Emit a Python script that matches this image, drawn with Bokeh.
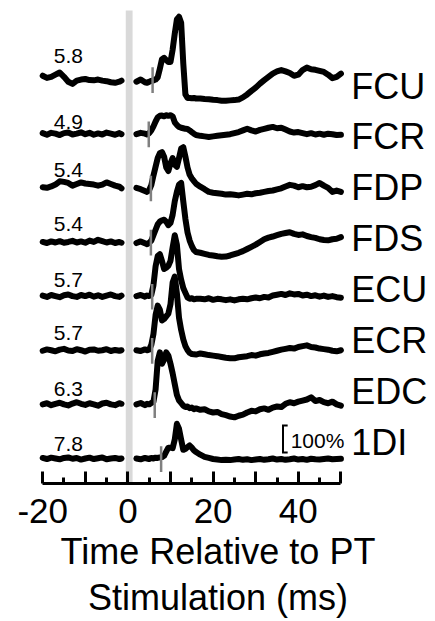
from bokeh.plotting import figure
from bokeh.models import FixedTicker, Title
from bokeh.core.properties import value
from bokeh.embed import file_html
from bokeh.resources import INLINE

# ---------------- data ----------------
MUSCLES = ["FCU", "FCR", "FDP", "FDS", "ECU", "ECR", "EDC", "1DI"]
LATENCY = [5.8, 4.9, 5.4, 5.4, 5.7, 5.7, 6.3, 7.8]   # ms, onset marker + label

PRE_T = [-20, -19, -18, -17, -16, -15, -14, -13, -12, -11,
         -10, -9, -8, -7, -6, -5, -4, -3, -2, -1.5]
POST_T = [2, 3, 4, 4.5, 5, 5.5,
          6, 6.5, 7, 7.5, 8, 8.5, 9, 9.5,
          10, 10.5, 11, 11.5, 12, 12.5, 13, 13.5,
          14, 14.5, 15, 15.5, 16,
          17, 18, 19, 20, 21, 22, 23, 24, 25, 26,
          27, 28, 29, 30, 31, 32, 33, 34, 35, 36,
          37, 38, 39, 40, 41, 42, 43, 44, 45, 46,
          47, 48, 49, 50]

# amplitude in % of baseline
FCU_PRE = [14, 6, 10, 18, 26, 10, -8, -16, -4, 0, 2, -2, -3, 0, -4, -6, -10, -12, -8, -4]
FCU_POST = [-8, 0, -10, -12, -8, -5,
            -3, 0, 8, 40, 75, 80, 72, 65,
            65, 110, 170, 222, 232, 210, 60, -55,
            -68, -68, -69, -68, -70,
            -70, -72, -73, -75, -76, -78, -78, -77, -76, -74,
            -66, -55, -42, -30, -15, -2, 10, 22, 30, 35,
            30, 24, 14, 18, 35, 44, 38, 36, 32, 28,
            18, 5, 10, 22]

FCR_PRE = [2, -4, 3, 0, -5, 2, 4, -3, 0, 5, -2, 3, -4, 1, -3, 4, 0, -4, 2, -2]
FCR_POST = [-2, 3, 0, -3, 2, 12,
            27, 45, 60, 66, 67, 64, 68, 66,
            68, 64, 42, 32, 25, 22, 20, 18,
            17, 12, 6, 0, -5,
            -8, -10, -12, -10, -8, -6, -4, -2, 2, 6,
            12, 18, 12, 8, 14, 18, 22, 25, 20, 22,
            15, 8, 4, 6, 2, -2, 2, -3, 0, -4,
            0, -2, -5, -4]

FDP_PRE = [2, 0, 5, 12, 24, 22, 18, 8, 14, 20, 16, 14, 12, 8, 12, 20, 14, 8, 4, -2]
FDP_POST = [0, -5, -12, -15, -8, 10,
            45, 78, 110, 128, 132, 115, 75, 62,
            90, 110, 85, 78, 110, 145, 150, 115,
            75, 48, 35, 25, 15,
            4, -5, -15, -18, -20, -22, -25, -24, -26, -28,
            -25, -22, -24, -20, -18, -15, -12, -10, -6, -2,
            5, 11, 8, 2, 6, 2, 4, 10, 18, 8,
            0, -15, -10, -15]

FDS_PRE = [0, -4, 2, -2, 3, -3, 0, 4, -2, 2, -3, 5, 0, 8, 3, -2, 2, -4, 0, -3]
FDS_POST = [-4, 2, -5, -8, -3, 5,
            25, 45, 65, 75, 80, 82, 75, 62,
            70, 100, 150, 185, 212, 218, 150, 85,
            35, 5, -15, -30, -37,
            -40, -44, -48, -50, -53, -55, -54, -50, -45, -40,
            -34, -26, -18, -10, 0, 10, 16, 20, 25, 30,
            33, 36, 30, 26, 28, 22, 18, 15, 10, 7,
            6, 10, 12, 18]

ECU_PRE = [2, -3, 4, 0, -4, 3, 6, 0, -3, 4, 0, 5, -2, 3, -3, 2, 6, 0, -3, 2]
ECU_POST = [0, 4, -2, 2, 0, 5,
            40, 110, 148, 155, 130, 100, 105, 112,
            130, 180, 225, 190, 100, 60, 30, 12,
            -5, -10, -8, -12, -10,
            -10, -12, -8, -14, -10, -12, -15, -12, -16, -12,
            -10, -12, -8, -5, -8, -3, -5, 2, 5, 8,
            4, 10, 6, 8, 2, 5, 0, 3, -2, 2,
            -3, 0, -4, -6]

ECR_PRE = [-2, 3, 0, -4, 2, 5, -1, -3, 4, 0, -5, 2, 3, -2, 0, 4, -3, 1, -2, 0]
ECR_POST = [0, -3, 3, 0, 2, 20,
            60, 130, 165, 150, 110, 115, 125, 135,
            170, 250, 272, 210, 120, 75, 40, 15,
            0, -10, -14, -15, -16,
            -12, -15, -18, -20, -22, -25, -28, -30, -30, -26,
            -24, -22, -18, -20, -15, -12, -10, -6, -2, 2,
            5, 8, 6, 12, 15, 18, 12, 10, 6, 4,
            2, -2, -4, 0]

EDC_PRE = [0, 4, -3, 2, 6, 0, -4, 3, 8, 2, -2, 4, 0, -5, 3, 6, 0, -3, 4, 2]
EDC_POST = [0, 5, -3, 2, 0, 5,
            10, 55, 160, 192, 150, 165, 192, 180,
            150, 115, 75, 35, 15, 5, -5, -10,
            -8, -14, -12, -18, -15,
            -20, -18, -26, -30, -28, -36, -40, -45, -48, -42,
            -38, -30, -24, -26, -18, -15, -20, -12, -8, -10,
            2, 8, 4, 10, 14, 18, 26, 12, 16, 8,
            4, 10, 0, -5]

DI1_PRE = [2, -2, 3, 0, -3, 2, 4, -1, 2, -4, 0, 3, -2, 1, 4, -3, 0, 2, -2, 0]
DI1_POST = [0, -3, 2, 0, -2, 2,
            0, 3, 2, 4, 5, 10, 25, 40,
            40, 38, 70, 128, 110, 70, 32, 35,
            42, 48, 40, 30, 24,
            14, 6, 2, -2, -4, -6, -5, -6, -4, -2,
            -5, -3, -6, -4, -2, -5, -3, 0, -4, -2,
            -5, -3, 0, -4, -2, -5, -1, -3, -4, -2,
            0, -3, -2, -1]

PRE = [FCU_PRE, FCR_PRE, FDP_PRE, FDS_PRE, ECU_PRE, ECR_PRE, EDC_PRE, DI1_PRE]
POST = [FCU_POST, FCR_POST, FDP_POST, FDS_POST, ECU_POST, ECR_POST, EDC_POST, DI1_POST]

SCALE_PCT = 100
X_TICKS = [-20, -10, 0, 10, 20, 30, 40, 50]
X_MINOR = [-15, -5, 5, 15, 25, 35, 45]
X_LABELED = [-20, 0, 20, 40]
X_TITLE = ["Time Relative to PT", "Stimulation (ms)"]

# ---------------- layout ----------------
STEP = 200                                   # % between stacked traces
NUM_DY = [87, 44, 65, 65, 61, 65, 55, 52]    # latency-number centre above trace
FONT = "Liberation Sans"

p = figure(width=435, height=621, x_range=(-29.9, 72.2), y_range=(-92.4, 1692),
           output_backend="svg", toolbar_location=None, y_axis_location=None,
           min_border_left=0, min_border_right=0, min_border_top=0,
           min_border_bottom=138)
p.outline_line_color = None
p.grid.visible = False
p.background_fill_color = "white"
p.border_fill_color = "white"

# stimulus bar
p.quad(left=-0.5, right=1.1, bottom=-100, top=1655, color="#d9d9d9", line_color=None)

n = len(MUSCLES)
offsets = [(n - 1 - i) * STEP for i in range(n)]

for i in range(n):
    xs = PRE_T + [float("nan")] + POST_T
    ys = [offsets[i] + v for v in PRE[i]] + [float("nan")] + [offsets[i] + v for v in POST[i]]
    p.line(xs, ys, line_color="black", line_width=6, line_join="round", line_cap="round")

# onset markers
p.segment(x0=LATENCY, y0=[o - 50 for o in offsets], x1=LATENCY, y1=[o + 45 for o in offsets],
          line_color="#808080", line_width=2.5)

# latency numbers
p.text(x=[-17.4] * n, y=[offsets[i] + NUM_DY[i] for i in range(n)],
       text=[f"{v:.1f}" for v in LATENCY], text_font=value(FONT), text_font_size="21px",
       text_baseline="middle", text_align="left", text_color="black")

# muscle labels
p.text(x=[52.4] * n, y=[1376 - 188 * i for i in range(n)], text=MUSCLES,
       text_font=value(FONT), text_font_size="36px", text_baseline="middle",
       text_align="left", text_color="black")

# scale bar
bx = 36.4
p.line([bx + 1.1, bx, bx, bx + 1.1], [22 + SCALE_PCT, 22 + SCALE_PCT, 22, 22],
       line_color="black", line_width=2, line_join="miter")
p.text(x=[38.2], y=[68], text=[f"{SCALE_PCT}%"], text_font=value(FONT),
       text_font_size="21px", text_baseline="middle", text_align="left",
       text_color="black")

# x axis
ax = p.xaxis[0]
ax.bounds = (-20, 50)
ax.ticker = FixedTicker(ticks=X_TICKS, minor_ticks=X_MINOR)
overrides = {t: "" for t in X_TICKS if t not in X_LABELED}
overrides[-20] = "-20"
ax.major_label_overrides = overrides
ax.axis_line_width = 3
ax.axis_line_color = "black"
ax.major_tick_in = 12
ax.major_tick_out = 0
ax.minor_tick_in = 6
ax.minor_tick_out = 0
ax.major_tick_line_width = 3
ax.minor_tick_line_width = 3
ax.major_label_text_font = FONT
ax.major_label_text_font_size = "35px"
ax.major_label_text_color = "black"
ax.major_label_standoff = 15

# axis title (two lines, centred under the axis span)
for txt, so in zip(X_TITLE, [6, 0]):
    p.add_layout(Title(text=txt, align="center", offset=-24, standoff=so,
                       text_font=FONT, text_font_size="36px", text_font_style="normal",
                       text_color="black"), "below")

open("out.html", "w").write(file_html(p, INLINE))
